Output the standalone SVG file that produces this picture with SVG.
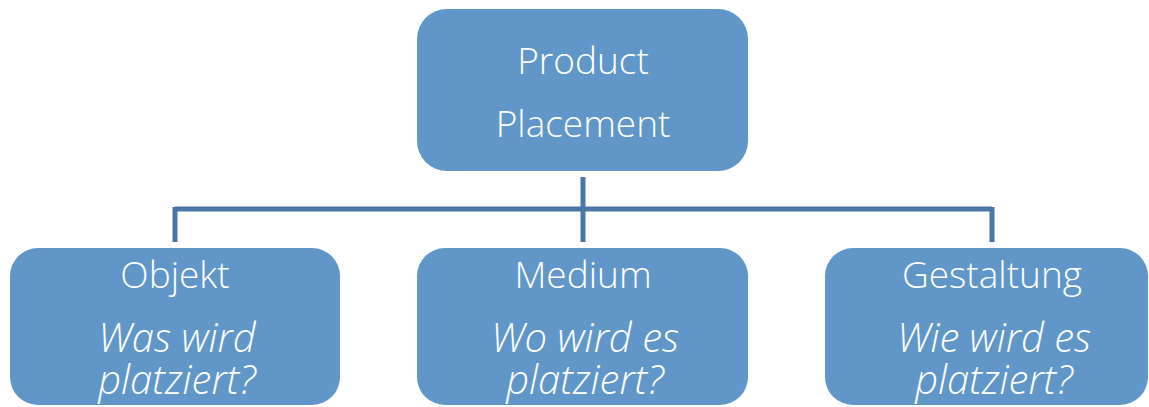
<svg xmlns="http://www.w3.org/2000/svg" width="1149" height="407" viewBox="0 0 1149 407">
<style>
.box{fill:#6196c9;}
.t{fill:#ffffff;font-family:"Open Sans","Noto Sans",sans-serif;font-weight:300;font-size:37px;text-anchor:middle;}
.i{font-style:italic;font-size:40px;}
.c{stroke:#4a76a8;stroke-width:5;fill:none;}
</style>
<rect width="1149" height="407" fill="#ffffff"/>
<g id="connectors">
<path class="c" d="M583,177 V242 M175,209 H992 M175,207 V242 M992,207 V242"/>
</g>
<g id="n-product">
<rect class="box" x="417" y="9" width="331" height="162" rx="30"/>
<text class="t" x="583" y="74">Product</text>
<text class="t" x="583" y="137">Placement</text>
</g>
<g id="n-objekt">
<rect class="box" x="10" y="248" width="330" height="157" rx="28"/>
<text class="t" x="175" y="288">Objekt</text>
<text class="t i" x="177" y="352">Was wird</text>
<text class="t i" x="177" y="394">platziert?</text>
</g>
<g id="n-medium">
<rect class="box" x="417" y="248" width="331" height="157" rx="28"/>
<text class="t" x="583" y="288">Medium</text>
<text class="t i" x="585" y="352">Wo wird es</text>
<text class="t i" x="585" y="394">platziert?</text>
</g>
<g id="n-gestaltung">
<rect class="box" x="825" y="248" width="323" height="157" rx="28"/>
<text class="t" x="992" y="288">Gestaltung</text>
<text class="t i" x="994" y="352">Wie wird es</text>
<text class="t i" x="994" y="394">platziert?</text>
</g>
</svg>
